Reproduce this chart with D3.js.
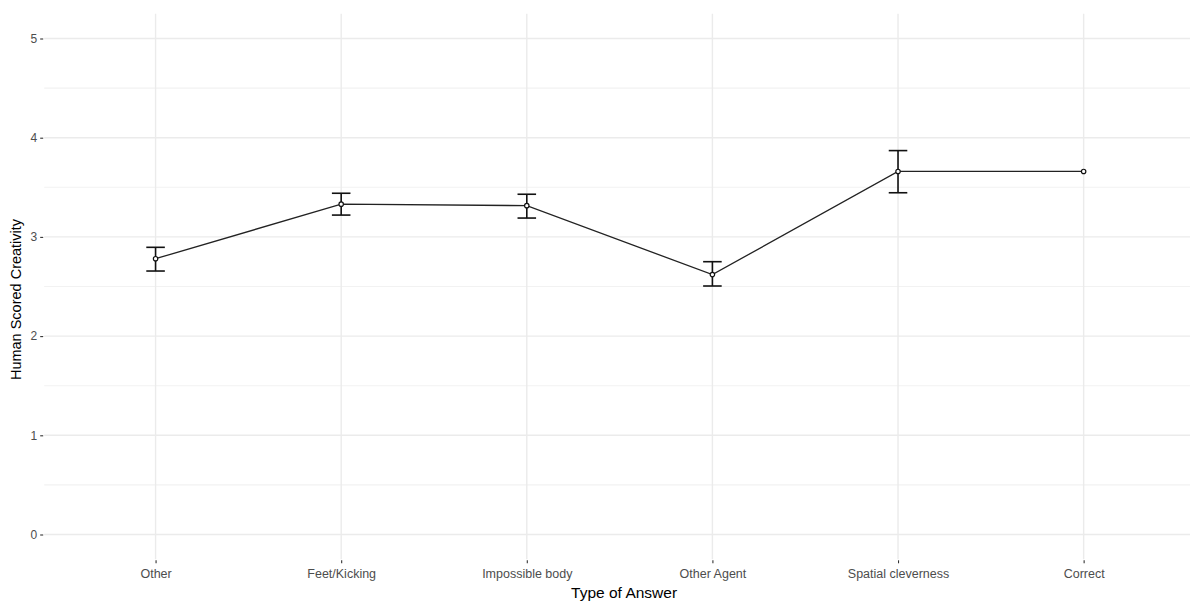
<!DOCTYPE html>
<html>
<head>
<meta charset="utf-8">
<script src="https://cdn.jsdelivr.net/npm/d3@7"></script>
<style>
  html, body { margin: 0; padding: 0; background: #fff; }
  svg { display: block; }
  text { font-family: "Liberation Sans", Arial, sans-serif; }
</style>
</head>
<body>
<svg id="chart" width="1190" height="602"></svg>
<script>
// Answer types and their mean creativity ratings with error bar bounds
const categories = ["Other", "Feet/Kicking", "Impossible body", "Other Agent", "Spatial cleverness", "Correct"];
const means = [2.78, 3.33, 3.315, 2.62, 3.66, 3.66];
const lower = [2.656, 3.22, 3.19, 2.505, 3.445, null];
const upper = [2.895, 3.44, 3.43, 2.75, 3.87, null];
const yTicks = [0, 1, 2, 3, 4, 5];
const yMinor = [0.5, 1.5, 2.5, 3.5, 4.5];

const svg = d3.select("#chart");
const W = 1190, H = 602;
const panel = { left: 44.2, right: 1195, top: 13.7, bottom: 559.3 };

// discrete x positions with 0.6 expansion on each side
const x = d3.scaleLinear().domain([0.4, 6.6]).range([panel.left, panel.right]);
const xPos = i => x(i + 1);
const y = d3.scaleLinear().domain([-0.25, 5.25]).range([panel.bottom, panel.top]);

const data = categories.map((c, i) => ({ c, i, m: means[i], lo: lower[i], hi: upper[i] }));

const g = svg.append("g");

// minor horizontal grid
g.selectAll(".ymin").data(yMinor).enter().append("line")
  .attr("x1", panel.left).attr("x2", W)
  .attr("y1", d => y(d)).attr("y2", d => y(d))
  .attr("stroke", "#F2F2F2").attr("stroke-width", 1.1);

// major horizontal grid
g.selectAll(".ymaj").data(yTicks).enter().append("line")
  .attr("x1", panel.left).attr("x2", W)
  .attr("y1", d => y(d)).attr("y2", d => y(d))
  .attr("stroke", "#EBEBEB").attr("stroke-width", 1.4);

// vertical grid
g.selectAll(".xmaj").data(data).enter().append("line")
  .attr("x1", d => xPos(d.i)).attr("x2", d => xPos(d.i))
  .attr("y1", panel.top).attr("y2", panel.bottom)
  .attr("stroke", "#EBEBEB").attr("stroke-width", 1.4);

// y axis
const yAxis = d3.axisLeft(y).tickValues(yTicks).tickSize(3).tickPadding(3).tickFormat(d3.format("d"));
const ya = svg.append("g").attr("transform", `translate(${panel.left - 1},0)`).call(yAxis);
ya.select(".domain").remove();
ya.selectAll(".tick line").attr("stroke", "#333").attr("stroke-width", 1.1);
ya.selectAll(".tick text").attr("fill", "#4D4D4D").style("font-size", "12px");

// x axis
const xAxis = d3.axisBottom(x).tickValues(data.map(d => d.i + 1)).tickSize(3).tickPadding(6)
  .tickFormat(v => categories[v - 1]);
const xa = svg.append("g").attr("transform", `translate(0,${panel.bottom + 1})`).call(xAxis);
xa.select(".domain").remove();
xa.selectAll(".tick line").attr("stroke", "#333").attr("stroke-width", 1.1);
xa.selectAll(".tick text").attr("fill", "#4D4D4D").style("font-size", "12.5px");

// axis titles
svg.append("text")
  .attr("x", (panel.left + 1190) / 2 + 7).attr("y", 598)
  .attr("text-anchor", "middle").style("font-size", "15.5px").attr("fill", "#000")
  .text("Type of Answer");
svg.append("text")
  .attr("transform", `translate(21,${(panel.top + panel.bottom) / 2 + 13}) rotate(-90)`)
  .attr("text-anchor", "middle").style("font-size", "14.5px").attr("fill", "#000")
  .text("Human Scored Creativity");

// connecting line
const line = d3.line().x(d => xPos(d.i)).y(d => y(d.m));
svg.append("path").datum(data)
  .attr("d", line).attr("fill", "none")
  .attr("stroke", "#222").attr("stroke-width", 1.3);

// error bars
const capHalf = (x(2) - x(1)) * 0.05;
const eb = svg.selectAll(".eb").data(data.filter(d => d.lo !== null)).enter().append("g");
eb.append("line")
  .attr("x1", d => xPos(d.i)).attr("x2", d => xPos(d.i))
  .attr("y1", d => y(d.lo)).attr("y2", d => y(d.hi))
  .attr("stroke", "#111").attr("stroke-width", 1.6);
eb.append("line")
  .attr("x1", d => xPos(d.i) - capHalf).attr("x2", d => xPos(d.i) + capHalf)
  .attr("y1", d => y(d.hi)).attr("y2", d => y(d.hi))
  .attr("stroke", "#111").attr("stroke-width", 1.6);
eb.append("line")
  .attr("x1", d => xPos(d.i) - capHalf).attr("x2", d => xPos(d.i) + capHalf)
  .attr("y1", d => y(d.lo)).attr("y2", d => y(d.lo))
  .attr("stroke", "#111").attr("stroke-width", 1.6);

// points
svg.selectAll(".pt").data(data).enter().append("circle")
  .attr("cx", d => xPos(d.i)).attr("cy", d => y(d.m)).attr("r", 2.2)
  .attr("fill", "#fff").attr("stroke", "#111").attr("stroke-width", 1.2);
</script>
</body>
</html>
